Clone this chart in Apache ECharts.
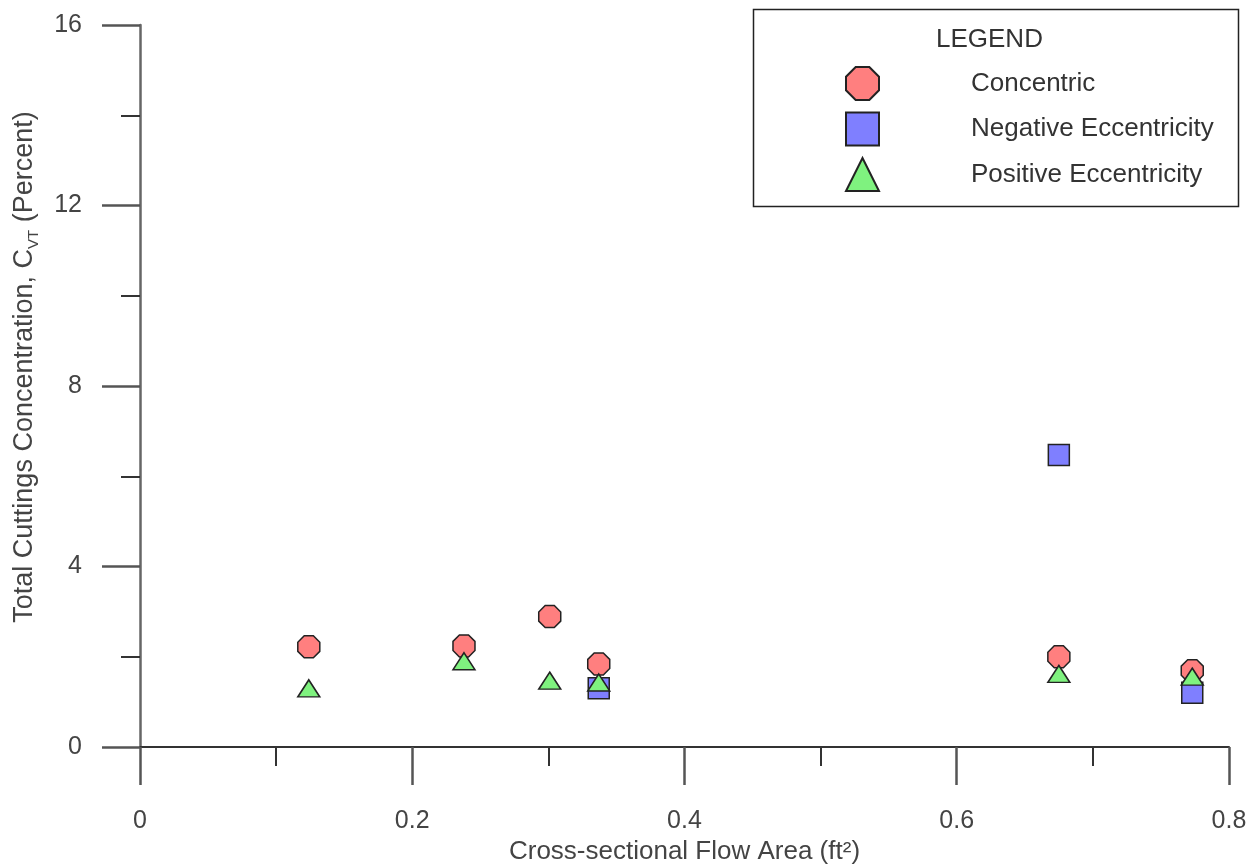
<!DOCTYPE html>
<html>
<head>
<meta charset="utf-8">
<script src="https://cdn.jsdelivr.net/npm/echarts@6/dist/echarts.min.js"></script>
<style>html,body{margin:0;padding:0;background:#fff;}#c{width:1255px;height:865px;}</style>
</head>
<body>
<div id="c"></div>
<script>
const seriesNames = ['Concentric', 'Negative Eccentricity', 'Positive Eccentricity'];
const concentric = [[0.124, 2.22], [0.238, 2.24], [0.301, 2.89], [0.337, 1.84], [0.675, 2.00], [0.773, 1.69]];
const negativeEcc = [[0.337, 1.30], [0.675, 6.47], [0.773, 1.20]];
const positiveEcc = [[0.124, 1.30], [0.238, 1.90], [0.301, 1.47], [0.337, 1.43], [0.675, 1.62], [0.773, 1.56]];
const xTicks = [0, 0.2, 0.4, 0.6, 0.8];
const yTicks = [0, 4, 8, 12, 16];

const octagon = 'path://M29.3,0 L70.7,0 L100,29.3 L100,70.7 L70.7,100 L29.3,100 L0,70.7 L0,29.3 Z';
const font = 'Liberation Sans, Arial, sans-serif';
const textColor = '#444';
const chart = echarts.init(document.getElementById('c'), null, {renderer: 'canvas'});

const fmt = v => {
  const t = xTicks.find(a => Math.abs(a - v) < 1e-9);
  return t === undefined ? '' : String(t);
};

chart.setOption({
  animation: false,
  backgroundColor: '#fff',
  grid: {left: 140, right: 26, top: 25, bottom: 118, containLabel: false, outerBoundsMode: 'none'},
  title: {
    text: 'LEGEND', left: 936, top: 27, padding: 0,
    textStyle: {fontFamily: font, fontSize: 26, fontWeight: 'normal', color: '#333'}
  },
  graphic: [{
    type: 'rect', left: 751, top: 7,
    shape: {width: 485, height: 197},
    style: {fill: 'none', stroke: '#222', lineWidth: 1.5}
  }],
  legend: {
    orient: 'vertical', left: 845, top: 66, padding: 0,
    itemWidth: 33, itemHeight: 33, itemGap: 10.5,
    textStyle: {fontFamily: font, fontSize: 26, lineHeight: 30, color: '#333', padding: [0, 0, 0, 87]},
    data: [
      {name: seriesNames[0], icon: octagon},
      {name: seriesNames[1], icon: 'rect'},
      {name: seriesNames[2], icon: 'triangle'}
    ]
  },
  xAxis: {
    type: 'value', min: 0, max: 0.8, interval: 0.2,
    name: 'Cross-sectional Flow Area (ft²)', nameLocation: 'middle', nameGap: 92,
    nameTextStyle: {fontFamily: font, fontSize: 26, color: textColor},
    axisLine: {show: true, onZero: false, lineStyle: {color: '#333', width: 2}},
    axisTick: {show: true, length: 38, lineStyle: {color: '#555', width: 2.5}},
    minorTick: {show: true, splitNumber: 2, length: 19, lineStyle: {color: '#333', width: 2}},
    axisLabel: {margin: 62, fontFamily: font, fontSize: 25, color: textColor, formatter: fmt},
    splitLine: {show: false}
  },
  yAxis: {
    type: 'value', min: 0, max: 16, interval: 4,
    name: '{m|Total Cuttings Concentration, C}{s|VT}{m| (Percent)}',
    nameLocation: 'middle', nameGap: 99, nameRotate: 90,
    nameTextStyle: {
      fontFamily: font, fontSize: 27, color: textColor, padding: [0, 0, 0, 38],
      rich: {
        m: {fontFamily: font, fontSize: 27, color: textColor, lineHeight: 32, verticalAlign: 'middle'},
        s: {fontFamily: font, fontSize: 15, color: textColor, lineHeight: 32, verticalAlign: 'bottom'}
      }
    },
    axisLine: {show: true, onZero: false, lineStyle: {color: '#666', width: 2.5}},
    axisTick: {show: true, length: 38, lineStyle: {color: '#555', width: 2.5}},
    minorTick: {show: true, splitNumber: 2, length: 19, lineStyle: {color: '#333', width: 2}},
    axisLabel: {margin: 58, fontFamily: font, fontSize: 25, color: textColor},
    splitLine: {show: false}
  },
  series: [
    {
      name: seriesNames[0], type: 'scatter', data: concentric,
      symbol: octagon, symbolSize: 22,
      itemStyle: {color: '#FF7F7F', borderColor: '#222', borderWidth: 1.5, opacity: 1}
    },
    {
      name: seriesNames[1], type: 'scatter', data: negativeEcc,
      symbol: 'rect', symbolSize: 21,
      itemStyle: {color: '#7F7FFF', borderColor: '#222', borderWidth: 1.5, opacity: 1}
    },
    {
      name: seriesNames[2], type: 'scatter', data: positiveEcc,
      symbol: 'triangle', symbolSize: [22, 17],
      itemStyle: {color: '#7FF27F', borderColor: '#222', borderWidth: 1.5, opacity: 1}
    }
  ]
});
</script>
</body>
</html>
